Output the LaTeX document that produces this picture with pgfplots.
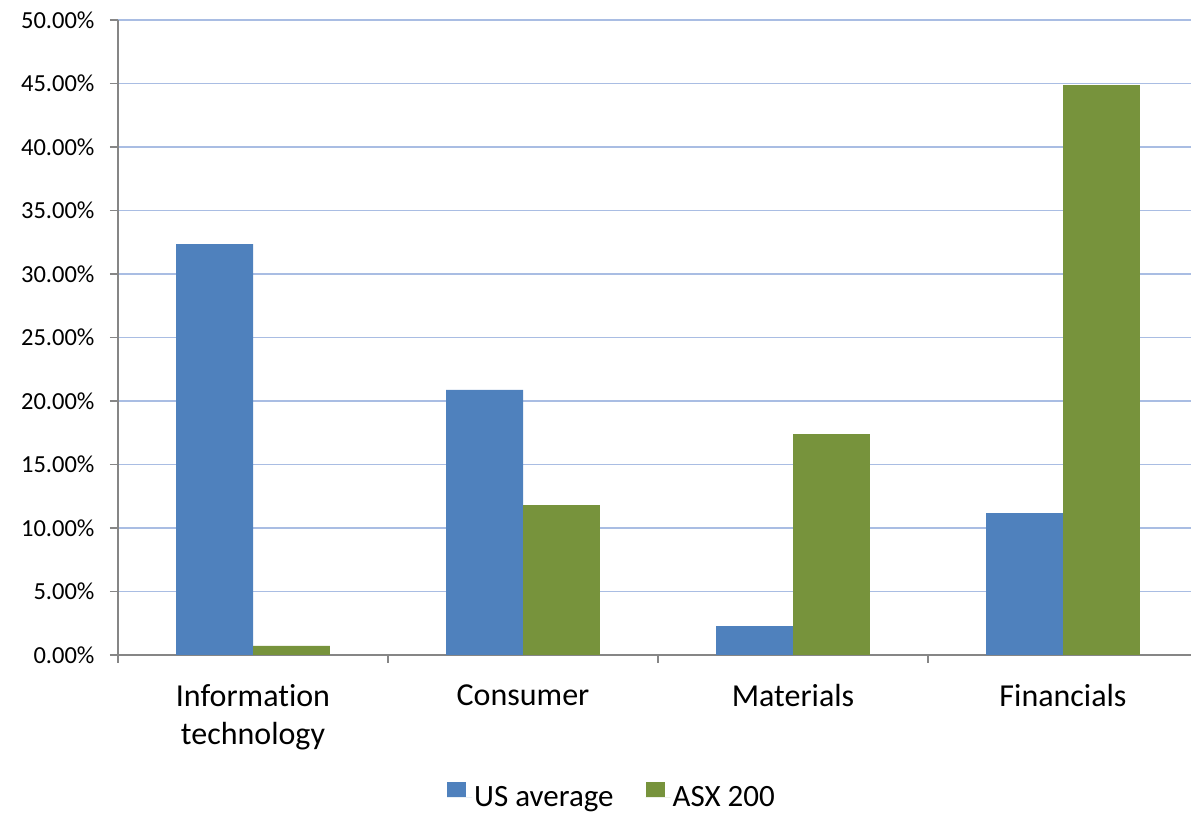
\documentclass[border=0pt]{standalone}
\usepackage{pgfplots}
\pgfplotsset{compat=1.18}
\usepackage{fontspec}
\setmainfont{Carlito}[Ligatures=NoCommon]

\definecolor{usblue}{HTML}{4F81BD}
\definecolor{asxgreen}{HTML}{77933C}
\definecolor{gridblue}{HTML}{A9BDE3}
\definecolor{axisgray}{HTML}{868686}

\begin{document}
\begin{tikzpicture}
\useasboundingbox (0,0) rectangle (1191pt,813pt);
\begin{axis}[
    at={(118pt,158pt)}, anchor=south west,
    scale only axis,
    width=1073pt, height=635pt,
    xmin=-0.5, xmax=3.474,
    ymin=0, ymax=50,
    ybar=0pt, bar width=0.285,
    axis x line*=bottom, axis y line*=left,
    axis line style={axisgray, line width=1.5pt, -},
    xtick={0,1,2,3},
    xticklabels={Information\\technology, Consumer, Materials, Financials},
    major x tick style={draw=none},
    minor xtick={-0.5,0.5,1.5,2.5},
    minor x tick style={axisgray, line width=1.5pt},
    minor tick length=8pt,
    ytick={0,5,...,50},
    y tick style={axisgray, line width=1.5pt},
    major tick length=8pt,
    tick align=outside,
    ymajorgrids,
    grid style={gridblue, line width=1.5pt},
    yticklabel={\pgfmathprintnumber[fixed,fixed zerofill,precision=2]{\tick}\%},
    /pgf/number format/assume math mode=true,
    yticklabel style={font=\fontsize{24.5}{29}\selectfont, anchor=east, xshift=-12pt},
    xticklabel style={font=\fontsize{32}{38}\selectfont, align=center, anchor=north, yshift=-18pt},
    legend columns=2,
    legend style={at={(0.4604,-0.222)}, anchor=center, draw=none,
        font=\fontsize{31}{36}\selectfont,
        /tikz/every even column/.append style={column sep=30pt}},
    legend image code/.code={\fill[#1] (0pt,0pt) rectangle (19pt,15pt);
        \path (0pt,0pt) -- (25pt,0pt);},
]
\addplot[fill=usblue, draw=none] coordinates {
    (0,32.36) (1,20.87) (2,2.28) (3,11.18)
};
\addplot[fill=asxgreen, draw=none] coordinates {
    (0,0.71) (1,11.81) (2,17.40) (3,44.88)
};
\legend{US average, ASX 200}
\end{axis}
\end{tikzpicture}
\end{document}
